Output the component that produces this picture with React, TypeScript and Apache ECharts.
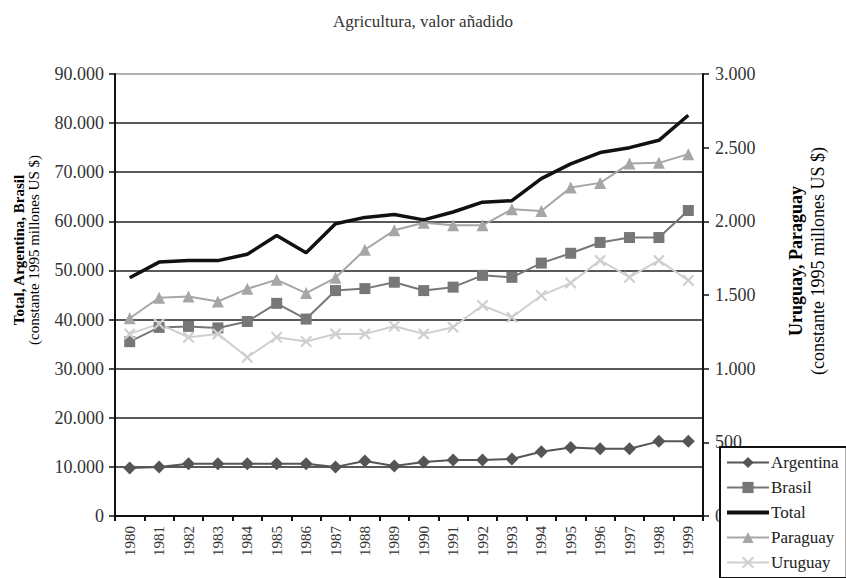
import React, { useEffect, useRef } from "react";
import * as echarts from "echarts";

const title = "Agricultura, valor añadido";
const years = ["1980","1981","1982","1983","1984","1985","1986","1987","1988","1989","1990","1991","1992","1993","1994","1995","1996","1997","1998","1999"];
const argentina = [9750, 10000, 10650, 10650, 10650, 10650, 10650, 10000, 11200, 10200, 11000, 11400, 11400, 11600, 13100, 13950, 13700, 13700, 15200, 15200];
const brasil = [35500, 38400, 38600, 38300, 39600, 43300, 40100, 45900, 46300, 47600, 45900, 46600, 49000, 48600, 51500, 53500, 55700, 56700, 56700, 62200];
const total = [48500, 51700, 52000, 52000, 53300, 57100, 53600, 59500, 60800, 61400, 60300, 61900, 63900, 64200, 68700, 71700, 74000, 75000, 76500, 81600];
const paraguay = [1342, 1481, 1490, 1456, 1542, 1603, 1513, 1617, 1807, 1939, 1991, 1973, 1973, 2082, 2070, 2229, 2261, 2392, 2397, 2456];
const uruguay = [1236, 1304, 1213, 1236, 1077, 1213, 1184, 1236, 1236, 1288, 1236, 1281, 1429, 1349, 1497, 1581, 1735, 1621, 1735, 1599];
const leftName1 = "Total, Argentina, Brasil";
const leftName2 = "(constante 1995 millones US $)";
const rightName1 = "Uruguay, Paraguay";
const rightName2 = "(constante 1995 millones US $)";

const FONT = "'Liberation Serif', 'Times New Roman', serif";
const CROSS = "path://M0,0 L1.4,0 L5,3.6 L8.6,0 L10,0 L10,1.4 L6.4,5 L10,8.6 L10,10 L8.6,10 L5,6.4 L1.4,10 L0,10 L0,8.6 L3.6,5 L0,1.4 Z";
const BAR = "path://M0,0 L42,0 L42,4 L0,4 Z";

const fmt = (v: number) => String(v).replace(/\B(?=(\d{3})+(?!\d))/g, ".");

export default function App() {
  const ref = useRef<HTMLDivElement>(null);
  useEffect(() => {
    if (!ref.current) return;
    const chart = echarts.init(ref.current, null, { renderer: "svg" });
    const gridColors = ["#222", "#222", "#222", "#222", "#222", "#222", "#222", "#222", "#222", "#999"];
    chart.setOption({
      animation: false,
      backgroundColor: "#fff",
      textStyle: { fontFamily: FONT },
      title: {
        text: title,
        left: "center",
        top: 8,
        textStyle: { fontFamily: FONT, fontSize: 17, fontWeight: "normal", color: "#333" },
      },
      grid: { left: 115, right: 143, top: 74, bottom: 62 },
      legend: {
        orient: "vertical",
        left: 720,
        top: 447,
        height: 220,
        padding: [7, 8, 7, 6],
        itemGap: 8,
        itemWidth: 42,
        itemHeight: 14,
        backgroundColor: "#fff",
        borderColor: "#111",
        borderWidth: 2,
        textStyle: { fontFamily: FONT, fontSize: 17, color: "#222", padding: [0, 0, 0, -3] },
        data: [
          "Argentina",
          "Brasil",
          { name: "Total", icon: BAR, itemStyle: { color: "#111" } },
          "Paraguay",
          "Uruguay",
        ],
      },
      xAxis: {
        type: "category",
        data: years,
        boundaryGap: true,
        axisLine: { lineStyle: { color: "#111", width: 2 } },
        axisTick: { show: true, length: 5, lineStyle: { color: "#111", width: 2 } },
        axisLabel: { rotate: 90, fontFamily: FONT, fontSize: 15, color: "#333", margin: 10 },
      },
      yAxis: [
        {
          type: "value",
          min: 0,
          max: 90000,
          interval: 10000,
          axisLine: { show: true, lineStyle: { color: "#111", width: 2 } },
          axisTick: { show: true, length: 6, lineStyle: { color: "#111", width: 1.5 } },
          axisLabel: { fontFamily: FONT, fontSize: 18, color: "#333", margin: 11, formatter: fmt },
          splitLine: { show: true, lineStyle: { color: gridColors, width: 1.6 } },
        },
        {
          type: "value",
          min: 0,
          max: 3000,
          interval: 500,
          position: "right",
          axisLine: { show: true, lineStyle: { color: "#111", width: 2 } },
          axisTick: { show: true, length: 6, lineStyle: { color: "#111", width: 1.5 } },
          axisLabel: { fontFamily: FONT, fontSize: 18, color: "#333", margin: 12, formatter: fmt },
          splitLine: { show: false },
        },
      ],
      series: [
        {
          name: "Argentina",
          type: "line",
          yAxisIndex: 0,
          data: argentina,
          symbol: "diamond",
          symbolSize: 13,
          lineStyle: { color: "#555", width: 2 },
          itemStyle: { color: "#555" },
          z: 3,
        },
        {
          name: "Brasil",
          type: "line",
          yAxisIndex: 0,
          data: brasil,
          symbol: "rect",
          symbolSize: 11,
          lineStyle: { color: "#777", width: 2 },
          itemStyle: { color: "#777" },
          z: 3,
        },
        {
          name: "Total",
          type: "line",
          yAxisIndex: 0,
          data: total,
          symbol: "none",
          lineStyle: { color: "#111", width: 3.5 },
          itemStyle: { color: "#111" },
          z: 4,
        },
        {
          name: "Paraguay",
          type: "line",
          yAxisIndex: 1,
          data: paraguay,
          symbol: "triangle",
          symbolSize: 12,
          lineStyle: { color: "#a6a6a6", width: 2 },
          itemStyle: { color: "#a6a6a6" },
          z: 3,
        },
        {
          name: "Uruguay",
          type: "line",
          yAxisIndex: 1,
          data: uruguay,
          symbol: CROSS,
          symbolSize: 11,
          lineStyle: { color: "#cfcfcf", width: 2 },
          itemStyle: { color: "#cfcfcf" },
          z: 3,
        },
      ],
      graphic: [
        {
          type: "text",
          x: 26,
          y: 250,
          rotation: Math.PI / 2,
          style: {
            text: "{b|" + leftName1 + "}\n{n|" + leftName2 + "}",
            align: "center",
            verticalAlign: "middle",
            rich: {
              b: { fontFamily: FONT, fontSize: 15, fontWeight: "bold", color: "#222", lineHeight: 15 },
              n: { fontFamily: FONT, fontSize: 15, color: "#333", lineHeight: 15 },
            },
          },
        },
        {
          type: "text",
          x: 807,
          y: 261,
          rotation: Math.PI / 2,
          style: {
            text: "{b|" + rightName1 + "}\n{n|" + rightName2 + "}",
            align: "center",
            verticalAlign: "middle",
            rich: {
              b: { fontFamily: FONT, fontSize: 18, fontWeight: "bold", color: "#222", lineHeight: 22 },
              n: { fontFamily: FONT, fontSize: 18, color: "#333", lineHeight: 22 },
            },
          },
        },
      ],
    });
    return () => chart.dispose();
  }, []);
  return <div ref={ref} style={{ width: 846, height: 578, position: "absolute", left: 0, top: 0 }} />;
}
